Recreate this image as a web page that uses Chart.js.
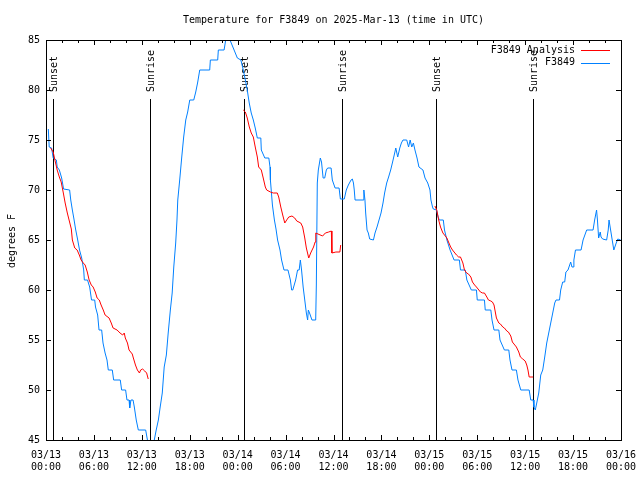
<!DOCTYPE html>
<html>
<head>
<meta charset="utf-8">
<script src="https://cdn.jsdelivr.net/npm/chart.js@4/dist/chart.umd.min.js"></script>
<style>
html,body{margin:0;padding:0;background:#fff;}
#wrap{width:640px;height:480px;}
</style>
</head>
<body>
<div id="wrap"><canvas id="c" width="640" height="480"></canvas></div>
<script>
// ---- DATA (hours since 2025-03-13 00:00 UTC) ----
const obsHours = [0.29,0.4,0.7,0.9,1.3,1.4,1.67,1.96,2.2,2.96,3.1,3.3,3.5,3.7,3.97,4.2,4.47,4.72,4.8,5.2,5.47,5.7,6.1,6.2,6.47,6.64,6.97,7.14,7.4,7.64,7.8,8.3,8.47,9.3,9.47,9.97,10.14,10.4,10.48,10.64,10.9,11.06,11.3,11.56,12.48,12.7,13.0,13.3,13.56,13.8,14.07,14.3,14.56,14.8,15.07,15.3,15.57,15.8,16.0,16.24,16.4,16.5,16.74,17.0,17.24,17.5,17.74,18.0,18.5,18.75,19.0,19.25,20.5,20.58,21.5,21.58,22.3,22.5,22.8,23.04,23.45,23.96,24.4,24.7,24.96,25.2,25.45,25.7,25.96,26.2,26.46,26.9,26.96,27.4,27.9,28.05,28.1,28.2,28.35,28.6,28.8,29.0,29.3,29.5,29.8,30.3,30.6,30.76,30.9,31.26,31.5,31.7,31.85,32.0,32.2,32.4,32.6,32.76,32.85,33.0,33.3,33.77,33.85,33.97,34.1,34.35,34.5,34.7,34.9,35.1,35.27,35.7,35.85,36.2,36.7,36.86,37.35,37.6,37.86,38.2,38.36,38.5,38.6,38.7,39.7,39.8,39.94,40.03,40.2,40.36,40.53,41.0,41.2,41.45,41.7,41.95,42.2,42.4,42.66,42.9,43.16,43.4,43.66,43.8,44.04,44.3,44.5,44.7,45.17,45.4,45.6,45.8,46.0,46.2,46.46,46.7,47.2,47.46,47.8,48.08,48.2,48.4,48.5,48.9,49.1,49.25,49.75,49.9,50.2,50.6,51.1,51.76,51.9,52.5,52.7,53.26,53.9,54.0,54.9,55.0,55.7,55.85,56.1,56.7,56.85,57.4,57.95,58.1,58.35,58.9,59.1,59.45,60.5,60.7,61.0,61.1,61.27,61.45,61.7,61.95,62.2,62.45,62.7,62.95,63.2,63.45,63.7,63.86,64.3,64.45,64.7,64.95,65.1,65.36,65.7,65.86,66.0,66.1,66.3,67.0,67.25,67.7,68.5,68.7,68.94,69.05,69.2,69.4,69.5,69.7,70.2,70.4,70.5,70.7,70.9,71.1,71.4,71.6,71.95];
const obsTemps = [76.1,74.3,74.2,73.2,73,72.3,72,71.2,70.1,70,69,68,67.1,66.1,65,64,63.2,62,61,61,60.3,59,59,58.3,57.5,56,56,54.7,53.7,53,52,52,51,51,50,50,49,49,48.2,49,49,48.3,47,46,46,45,44,44.2,45,46,47,48.3,49.7,52.3,53.5,55.7,58,59.7,62.3,64.7,67,69,71,73.3,75.3,77,77.8,79,79,79.8,80.8,82,82,83,83,84,84,85,85.6,85,84.2,83.2,83,82,81,80,78.7,77.7,77,76.2,75.2,75.2,74,73.2,73.2,72.3,71,70,68.5,67,66.1,65,64,63,62,62,61,60,60,61,62,62,63,62,60.3,59,57.7,57,58,57.7,57,57,60.5,70.7,72,73.2,72.8,71.2,71.2,72,72.2,72.2,71,70.2,70.2,69.1,69.1,70,70.5,71,71.1,70.7,70,69,69,70,69,67.7,66,65.7,65.1,65,65.7,66.3,67,67.7,68.7,69.7,70.7,71.3,72,72.8,73.7,74.2,73.3,74.2,74.7,75,75,74.3,75,74.3,74.7,74,73.2,72.3,72,71.2,70.7,70,69,68.3,68.1,68,67.3,67,67,66,65,64,63,63,62,62,61,60,60,59,59,58,58,57,56,56,55,54,54,53,52,52,51,50,50,49,49,48.3,48,48.7,49.7,51.5,52,53.3,54.7,55.7,56.7,57.7,58.7,59,59,60,60.8,60.8,61.8,62,62.8,62.3,62.3,63,64,64,65,66,66,67,68,67,65.2,65.8,65.3,65.1,65,66,67,66,65,64,64.7,65.1,65];

const anaHours = [0.58,0.9,1.17,1.4,1.67,1.9,2.17,2.4,2.67,2.92,3.17,3.3,3.6,3.9,4.17,4.4,4.67,4.9,5.17,5.4,5.67,5.9,6.17,6.4,6.67,6.9,7.17,7.4,7.9,8.17,8.4,8.9,9.27,9.6,9.8,9.93,10.2,10.4,10.8,10.94,11.2,11.44,11.7,11.85,12.1,12.36,12.6,12.8,18,
 24.7,24.96,25.2,25.46,25.7,25.96,26.2,26.46,26.63,26.96,27.2,27.46,27.63,28.1,28.46,28.96,29.14,29.4,29.64,29.9,30.14,30.4,30.8,31.14,31.4,31.9,32.14,32.4,32.6,32.9,33.14,33.5,33.7,33.78,34.06,34.64,34.98,35.4,35.73,35.8,36.3,36.8,36.9,42,
 48.7,48.93,49.17,49.4,49.7,49.9,50.2,50.4,50.67,50.9,51.2,51.4,51.67,51.9,52.2,52.4,52.67,52.9,53.2,53.4,53.67,53.9,54.2,54.4,54.67,54.9,55.2,55.4,55.7,55.9,56.1,56.26,56.4,56.7,56.9,57.2,57.4,57.7,57.9,58.2,58.4,58.7,58.9,59.2,59.4,59.7,60.0,60.2,60.35,60.5,61.0];
const anaTemps = [74.2,73.8,72.8,72,71.3,70.8,69.7,68.7,67.7,66.9,66.1,65,64.2,64,63.5,63,62.7,62.5,61.8,61,60.5,60.3,59.8,59.2,59,58.5,58,57.5,57.2,56.7,56.2,56,55.7,55.5,55.7,55.2,54.7,54,53.6,53.2,52.5,52,51.7,52,52.1,51.9,51.7,51.1,null,
 78,77.8,77.2,76.3,75.7,75.3,74.3,73.3,72.3,72,71.2,70.3,70,69.8,69.7,69.7,69.3,68.3,67.5,66.7,67,67.3,67.4,67.2,66.9,66.7,66.3,65.2,64.2,63.2,63.7,64.3,64.8,65.7,65.6,65.4,65.7,65.8,65.9,63.7,63.8,63.8,64.5,null,
 68.4,68,67,66.3,65.7,65.5,65.2,64.8,64.3,64,63.7,63.5,63.3,63.3,62.7,62,61.7,61.6,61.3,60.8,60.5,60.3,60,59.8,59.7,59.7,59.3,59,58.9,58.8,58.5,57.8,57.2,56.7,56.6,56.3,56.2,55.9,55.8,55.4,54.8,54.5,54.3,53.8,53.3,53.1,52.9,52.5,52,51.3,51.3];

const sunHours  = [0.92, 13.06, 24.83, 37.1, 48.88, 61.02];
const sunLabels = ["Sunset","Sunrise","Sunset","Sunrise","Sunset","Sunrise"];

const tickDates = ["03/13","03/13","03/13","03/13","03/14","03/14","03/14","03/14","03/15","03/15","03/15","03/15","03/16"];
const tickTimes = ["00:00","06:00","12:00","18:00","00:00","06:00","12:00","18:00","00:00","06:00","12:00","18:00","00:00"];
const yTicks = [45,50,55,60,65,70,75,80,85];

const titleText = "Temperature for F3849 on 2025-Mar-13 (time in UTC)";
const yTitle = "degrees F";
const seriesNames = ["F3849 Analysis","F3849"];
const seriesColors = ["#ff0000","#0080ff"];

// ---- CHART ----
const FONT = "'DejaVu Sans Mono', 'Liberation Mono', monospace";
const toXY = (xs, ys) => xs.map((x, i) => ({x: x, y: ys[i]}));

const gnuplotPlugin = {
  id: 'gnuplotDecor',
  beforeDatasetsDraw(chart) {
    const ctx = chart.ctx, a = chart.chartArea, xs = chart.scales.x;
    ctx.save();
    ctx.strokeStyle = '#000';
    ctx.lineWidth = 1;
    ctx.fillStyle = '#000';
    ctx.font = '10px ' + FONT;
    sunHours.forEach((h, i) => {
      const px = Math.round(xs.getPixelForValue(h)) + 0.5;
      ctx.beginPath();
      ctx.moveTo(px, a.top + 59);
      ctx.lineTo(px, a.bottom);
      ctx.stroke();
      ctx.save();
      ctx.translate(px + 1, a.top + 52);
      ctx.rotate(-Math.PI / 2);
      ctx.textAlign = 'left';
      ctx.textBaseline = 'middle';
      ctx.fillText(sunLabels[i], 0, 0);
      ctx.restore();
    });
    ctx.restore();
  },
  afterDraw(chart) {
    const ctx = chart.ctx, a = chart.chartArea, xs = chart.scales.x, ys = chart.scales.y;
    ctx.save();
    ctx.strokeStyle = '#000';
    ctx.lineWidth = 1;
    // frame
    ctx.strokeRect(Math.round(a.left) + 0.5, Math.round(a.top) + 0.5,
                   Math.round(a.right - a.left), Math.round(a.bottom - a.top));
    // x ticks (major every 6 h, minor every 2 h), bottom and top, inward
    ctx.beginPath();
    for (let h = 0; h <= 72; h += 2) {
      const px = Math.round(xs.getPixelForValue(h)) + 0.5;
      const len = (h % 6 === 0) ? 5 : 3;
      ctx.moveTo(px, a.bottom); ctx.lineTo(px, a.bottom - len);
      ctx.moveTo(px, a.top); ctx.lineTo(px, a.top + len);
    }
    // y ticks left and right
    yTicks.forEach(v => {
      const py = Math.round(ys.getPixelForValue(v)) + 0.5;
      ctx.moveTo(a.left, py); ctx.lineTo(a.left + 5, py);
      ctx.moveTo(a.right, py); ctx.lineTo(a.right - 5, py);
    });
    ctx.stroke();

    ctx.fillStyle = '#000';
    ctx.font = '10px ' + FONT;
    // title
    ctx.textAlign = 'center';
    ctx.textBaseline = 'middle';
    ctx.fillText(titleText, (a.left + a.right) / 2, 20);
    // y title
    ctx.save();
    ctx.translate(12, (a.top + a.bottom) / 2 + 1);
    ctx.rotate(-Math.PI / 2);
    ctx.textAlign = 'center';
    ctx.textBaseline = 'middle';
    ctx.fillText(yTitle, 0, 0);
    ctx.restore();
    // legend (gnuplot style: text right-aligned, sample to the right)
    seriesNames.forEach((name, i) => {
      const y = a.top + 10 + i * 12.5;
      ctx.textAlign = 'right';
      ctx.textBaseline = 'middle';
      ctx.fillText(name, a.right - 46, y);
      ctx.strokeStyle = seriesColors[i];
      ctx.beginPath();
      ctx.moveTo(a.right - 40, Math.round(y) + 0.5);
      ctx.lineTo(a.right - 11, Math.round(y) + 0.5);
      ctx.stroke();
    });
    ctx.restore();
  }
};

new Chart(document.getElementById('c'), {
  type: 'line',
  data: {
    datasets: [
      { label: seriesNames[0], data: toXY(anaHours, anaTemps), borderColor: seriesColors[0],
        borderWidth: 1, pointRadius: 0, spanGaps: false, tension: 0, fill: false },
      { label: seriesNames[1], data: toXY(obsHours, obsTemps), borderColor: seriesColors[1],
        borderWidth: 1, pointRadius: 0, spanGaps: false, tension: 0, fill: false }
    ]
  },
  options: {
    responsive: false,
    animation: false,
    devicePixelRatio: 1,
    layout: { padding: { top: 40, right: 19, left: 0, bottom: 0 } },
    plugins: { legend: { display: false }, title: { display: false }, tooltip: { enabled: false } },
    scales: {
      x: {
        type: 'linear', min: 0, max: 72,
        afterFit: s => { s.height = 40; s.paddingLeft = 0; s.paddingRight = 0; },
        afterBuildTicks: s => { s.ticks = tickDates.map((d, i) => ({ value: i * 6 })); },
        ticks: {
          autoSkip: false, maxRotation: 0, minRotation: 0, padding: 9,
          color: '#000', font: { family: FONT, size: 10, lineHeight: 1.2 },
          callback: (v, i) => [tickDates[i], tickTimes[i]]
        },
        grid: { display: false, drawTicks: false },
        border: { display: false }
      },
      y: {
        min: 45, max: 85,
        afterFit: s => { s.width = 46; s.paddingTop = 0; s.paddingBottom = 0; },
        afterBuildTicks: s => { s.ticks = yTicks.map(v => ({ value: v })); },
        ticks: {
          padding: 6, color: '#000', font: { family: FONT, size: 10 },
          callback: v => String(v)
        },
        grid: { display: false, drawTicks: false },
        border: { display: false }
      }
    }
  },
  plugins: [gnuplotPlugin]
});
</script>
</body>
</html>
